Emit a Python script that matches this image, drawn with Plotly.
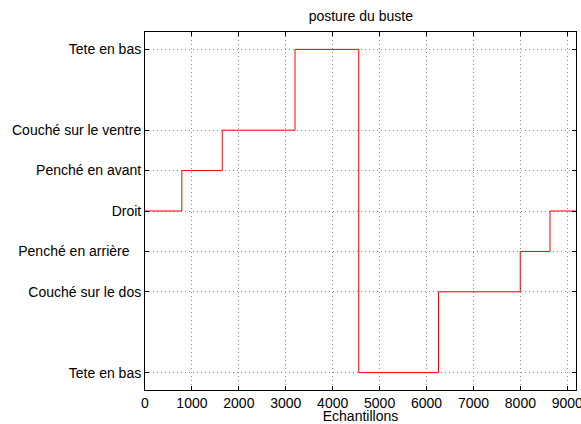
import plotly.graph_objects as go

# posture du buste: changement d'etat (echantillon) et niveau associe
change_points = [0, 785, 1647, 3197, 4555, 6255, 7997, 8631, 9185]
levels = [0, 1, 2, 4, -4, -2, -1, 0]

tick_vals = [4, 2, 1, 0, -1, -2, -4]
tick_text = ['Tete en bas', 'Couché sur le ventre', 'Penché en avant', 'Droit',
             'Penché en arrière\u00a0\u00a0\u00a0', 'Couché sur le dos', 'Tete en bas']

x_ticks = [0, 1000, 2000, 3000, 4000, 5000, 6000, 7000, 8000, 9000]

font = dict(family='Liberation Sans, Arial, sans-serif', size=14, color='black')

xs = change_points
ys = levels + [levels[-1]]

fig = go.Figure()
fig.add_trace(go.Scatter(x=xs, y=ys, mode='lines', line=dict(color='red', width=1, shape='hv'),
                         showlegend=False, hoverinfo='skip'))

axis_common = dict(showline=True, linecolor='black', linewidth=1, mirror='ticks',
                   ticks='inside', ticklen=4, tickcolor='black',
                   showgrid=True, gridcolor='#8c8c8c', gridwidth=1, griddash='1px,3px',
                   zeroline=False, tickfont=font, ticklabeloverflow='allow')

fig.update_layout(
    width=581, height=424,
    margin=dict(l=145, r=5, t=32, b=34),
    paper_bgcolor='white', plot_bgcolor='white',
    font=font,
    title=dict(text='posture du buste', x=0.621, xanchor='center', y=0.962, yanchor='middle',
               font=dict(family='Liberation Sans, Arial, sans-serif', size=14, color='black')),
    xaxis=dict(range=[0, 9185], tickvals=x_ticks,
               title=dict(text='Echantillons', standoff=0, font=font), automargin=False,
               **axis_common),
    yaxis=dict(range=[-4.43, 4.43], tickvals=tick_vals, ticktext=tick_text, automargin=False,
               ticklabelstandoff=0, **axis_common),
)

# pas de marge autour de la page, pour que la figure tienne dans la fenetre
fig.write_html("out.html", config={'displayModeBar': False},
               post_script="document.body.style.margin='0px';")
